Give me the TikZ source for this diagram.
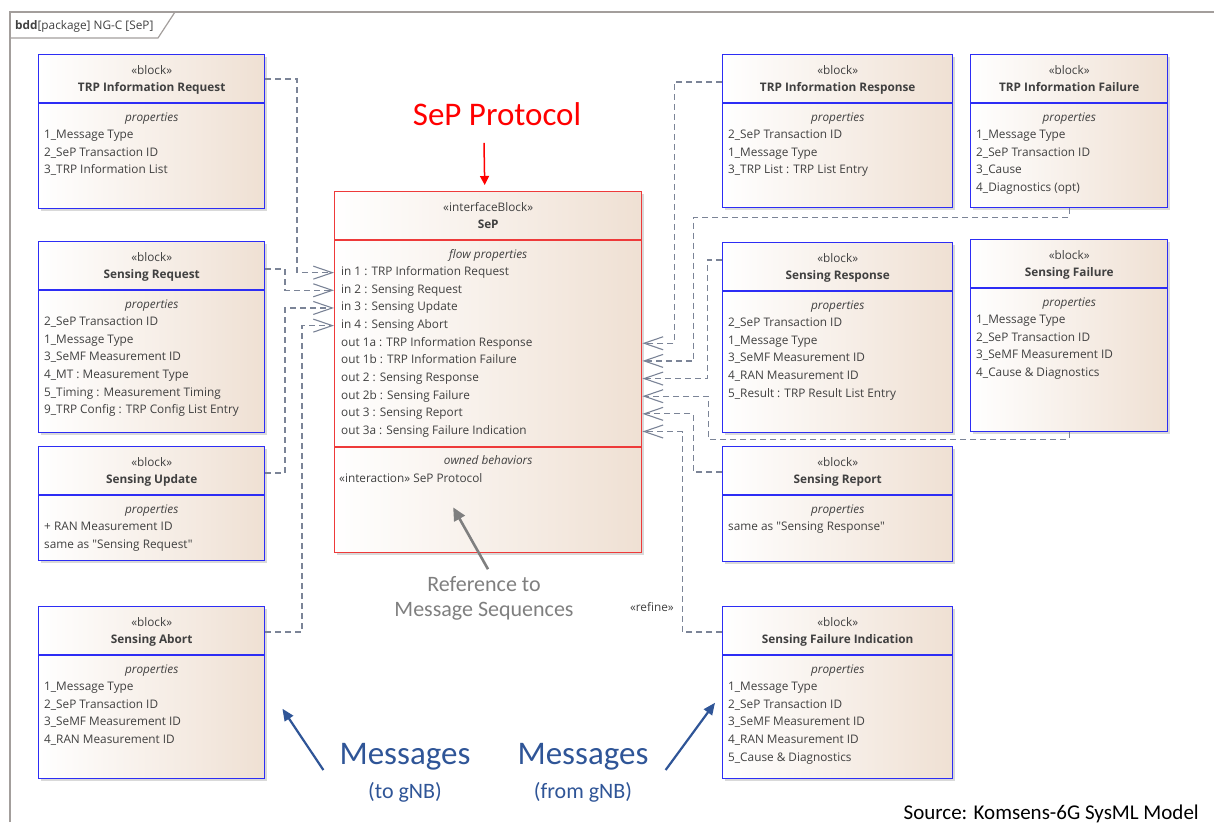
\documentclass[tikz,border=0pt]{standalone}
\usepackage{fontspec}
\setmainfont{Open Sans}[Ligatures=TeXOff]
\newfontfamily\headfont{Carlito}
\usetikzlibrary{positioning,calc,arrows.meta,shadows}

\definecolor{blkblue}{HTML}{2D2DF5}
\definecolor{blkfill}{HTML}{EFE0D3}
\definecolor{sepred}{HTML}{EE3A3A}
\definecolor{flowgray}{HTML}{7B8497}
\definecolor{txtgray}{HTML}{404040}
\definecolor{refgray}{HTML}{7F7F7F}
\definecolor{msgblue}{HTML}{2F5597}
\definecolor{framegray}{HTML}{A39E9C}

\tikzset{
  blk/.style={draw=blkblue, line width=1.4pt, left color=white, right color=blkfill,
    anchor=north west, inner sep=0pt,
    drop shadow={shadow xshift=2.5pt, shadow yshift=-2.5pt, opacity=0.25, fill=black!60}},
  sepblk/.style={blk, draw=sepred},
  stereo/.style={anchor=base, font=\fontsize{11.8}{13}\selectfont, text=txtgray, inner sep=0pt},
  blkname/.style={stereo, font=\fontsize{11.8}{13}\selectfont\bfseries},
  compt/.style={stereo, font=\fontsize{11.8}{13}\selectfont\itshape},
  prop/.style={stereo, anchor=base west, text height=8.5pt, text depth=2.5pt},
  flow/.style={draw=flowgray, line width=1.2pt, dash pattern=on 6pt off 4pt,
    -{Straight Barb[length=19pt, width=13pt, line width=1.1pt]}},
  bigtxt/.style={inner sep=0pt, font=\headfont\fontsize{33}{36}\selectfont},
  subtxt/.style={inner sep=0pt, font=\headfont\fontsize{22}{24}\selectfont},
  msgarr/.style={draw=msgblue, line width=2.2pt, -{Triangle[length=12pt, width=10pt]}},
}

\begin{document}
\begin{tikzpicture}[x=1pt,y=-1pt]

	\useasboundingbox (0,0) rectangle (1214,822);

	\def\blkhead#1#2#3#4#5{
	    \node[stereo] at ($(#1.north)+(0,20)$) {«#2»};
	    \node[blkname] at ($(#1.north)+(0,37)$) {#3};
	    \draw[#4, line width=1.4pt] ($(#1.north west)+(0,49)$) -- ($(#1.north east)+(0,49)$);
	    \node[compt] at ($(#1.north)+(0,67)$) {#5};
	}
	\def\props#1#2{
	    \foreach \t [count=\i] in {#2}
	        \node[prop] at ($(#1.north west)+(6,67+17.6*\i)$) {\t};
	}

	\draw[framegray, line width=1.6pt] (10,822) -- (10,12) -- (1214,12);
	\draw[framegray, line width=1.2pt] (10,38) -- (158,38) -- (175,12);
	\node[prop] (frame) at (15,29) {\textbf{bdd}[package] NG-C [SeP]};

	\node[blk, minimum width=226pt, minimum height=154pt] (trpreq) at (38,54) {};
	\node[blk, minimum width=226pt, minimum height=191pt] (sensreq) at (38,241) {};
	\node[blk, minimum width=226pt, minimum height=114pt] (sensupd) at (38,446) {};
	\node[blk, minimum width=226pt, minimum height=172pt] (sensabt) at (38,606) {};
	\node[blk, minimum width=230pt, minimum height=153pt] (trpresp) at (722,54) {};
	\node[blk, minimum width=230pt, minimum height=190pt] (sensresp) at (722,242) {};
	\node[blk, minimum width=230pt, minimum height=115pt] (sensrep) at (722,446) {};
	\node[blk, minimum width=230pt, minimum height=172pt] (sensfind) at (722,606) {};
	\node[blk, minimum width=197pt, minimum height=153pt] (trpfail) at (970,54) {};
	\node[blk, minimum width=197pt, minimum height=192pt] (sensfail) at (970,239) {};
	\node[sepblk, minimum width=307pt, minimum height=361pt] (sep) at (334,191) {};

	\blkhead{trpreq}{block}{TRP Information Request}{blkblue}{properties}
	\props{trpreq}{1\_Message Type, 2\_SeP Transaction ID, 3\_TRP Information List}

	\blkhead{sensreq}{block}{Sensing Request}{blkblue}{properties}
	\props{sensreq}{2\_SeP Transaction ID, 1\_Message Type, 3\_SeMF Measurement ID,
	    4\_MT : Measurement Type, 5\_Timing : Measurement Timing, 9\_TRP Config : TRP Config List Entry}

	\blkhead{sensupd}{block}{Sensing Update}{blkblue}{properties}
	\props{sensupd}{+ RAN Measurement ID, same as "Sensing Request"}

	\blkhead{sensabt}{block}{Sensing Abort}{blkblue}{properties}
	\props{sensabt}{1\_Message Type, 2\_SeP Transaction ID, 3\_SeMF Measurement ID, 4\_RAN Measurement ID}

	\blkhead{trpresp}{block}{TRP Information Response}{blkblue}{properties}
	\props{trpresp}{2\_SeP Transaction ID, 1\_Message Type, 3\_TRP List : TRP List Entry}

	\blkhead{trpfail}{block}{TRP Information Failure}{blkblue}{properties}
	\props{trpfail}{1\_Message Type, 2\_SeP Transaction ID, 3\_Cause, 4\_Diagnostics (opt)}

	\blkhead{sensresp}{block}{Sensing Response}{blkblue}{properties}
	\props{sensresp}{2\_SeP Transaction ID, 1\_Message Type, 3\_SeMF Measurement ID,
	    4\_RAN Measurement ID, 5\_Result : TRP Result List Entry}

	\blkhead{sensfail}{block}{Sensing Failure}{blkblue}{properties}
	\props{sensfail}{1\_Message Type, 2\_SeP Transaction ID, 3\_SeMF Measurement ID, 4\_Cause \& Diagnostics}

	\blkhead{sensrep}{block}{Sensing Report}{blkblue}{properties}
	\props{sensrep}{same as "Sensing Response"}

	\blkhead{sensfind}{block}{Sensing Failure Indication}{blkblue}{properties}
	\props{sensfind}{1\_Message Type, 2\_SeP Transaction ID, 3\_SeMF Measurement ID,
	    4\_RAN Measurement ID, 5\_Cause \& Diagnostics}

	\blkhead{sep}{interfaceBlock}{SeP}{sepred}{flow properties}
	\foreach \n/\t [count=\i] in {in1/in 1 : TRP Information Request, in2/in 2 : Sensing Request,
	    in3/in 3 : Sensing Update, in4/in 4 : Sensing Abort, o1a/out 1a : TRP Information Response,
	    o1b/out 1b : TRP Information Failure, o2/out 2 : Sensing Response, o2b/out 2b : Sensing Failure,
	    o3/out 3 : Sensing Report, o3a/out 3a : Sensing Failure Indication}
	    \node[prop] (\n) at ($(sep.north west)+(7,67+17.65*\i)$) {\t};
	\draw[sepred, line width=1.4pt] ($(sep.north west)+(0,256)$) -- ($(sep.north east)+(0,256)$);
	\node[compt] (owned) at ($(sep.north)+(0,273)$) {owned behaviors};
	\node[prop] (inter) at ($(sep.north west)+(5,291)$) {«interaction» SeP Protocol};

	\draw[flow] ($(trpreq.north east)+(0,25)$) -| ($(sep.west |- in1)+(-37,0)$) -- (sep.west |- in1);
	\draw[flow] ($(sensreq.north east)+(0,28)$) -| ($(sep.west |- in2)+(-49,0)$) -- (sep.west |- in2);
	\draw[flow] ($(sensupd.north east)+(0,27)$) -| ($(sep.west |- in3)+(-49,0)$) -- (sep.west |- in3);
	\draw[flow] ($(sensabt.north east)+(0,26)$) -| ($(sep.west |- in4)+(-32,0)$) -- (sep.west |- in4);

	\draw[flow] ($(trpresp.north west)+(0,28)$) -| ($(sep.east |- o1a)+(32,0)$) -- (sep.east |- o1a);
	\draw[flow] (trpfail.south) -- ++(0,9) -| ($(sep.east |- o1b)+(51,0)$) -- (sep.east |- o1b);
	\draw[flow] ($(sensresp.north west)+(0,18)$) -| ($(sep.east |- o2)+(65,0)$) -- (sep.east |- o2);
	\draw[flow] (sensfail.south) -- ++(0,7) -| ($(sep.east |- o2b)+(66,0)$) -- (sep.east |- o2b);
	\draw[flow] ($(sensrep.north west)+(0,26)$) -| ($(sep.east |- o3)+(51,0)$) -- (sep.east |- o3);
	\draw[flow] ($(sensfind.north west)+(0,26)$) -| ($(sep.east |- o3a)+(40,0)$) -- (sep.east |- o3a);
	\node[stereo, anchor=base east] (refine) at ($(sensfind.north west)+(-48,5)$) {«refine»};

	\node[bigtxt, text=red] (sepproto) at (497,114) {SeP Protocol};
	\draw[red, line width=1.5pt, -{Triangle[length=9pt, width=9pt]}]
	    ($(sepproto.south)+(-13,17)$) -- ($(sep.north)+(-3.5,-6)$);

	\node[subtxt, text=refgray] (ref1) at (484,584) {Reference to};
	\node[subtxt, text=refgray] (ref2) at (484,611) {Message Sequences};
	\draw[refgray, line width=2.6pt, -{Triangle[length=13pt, width=12pt]}]
	    ($(ref1.north)+(4,-7)$) -- ($(sep.south)+(-35,-46)$);

	\node[bigtxt, text=msgblue] (msgto) at (405,757) {Messages};
	\node[subtxt, text=msgblue] (to) at (405,792) {(to gNB)};
	\node[bigtxt, text=msgblue] (msgfrom) at (583,757) {Messages};
	\node[subtxt, text=msgblue] (from) at (583,792) {(from gNB)};
	\draw[msgarr] ($(msgto.west)+(-16,13)$) -- ($(sensabt.east)+(17,16)$);
	\draw[msgarr] ($(msgfrom.east)+(17,13)$) -- ($(sensfind.west)+(-7,10)$);

	\node[inner sep=0pt, anchor=base east, font=\headfont\fontsize{21}{24}\selectfont] (src) at (1199,819)
	    {Source: Komsens-6G SysML Model};
\end{tikzpicture}
\end{document}
